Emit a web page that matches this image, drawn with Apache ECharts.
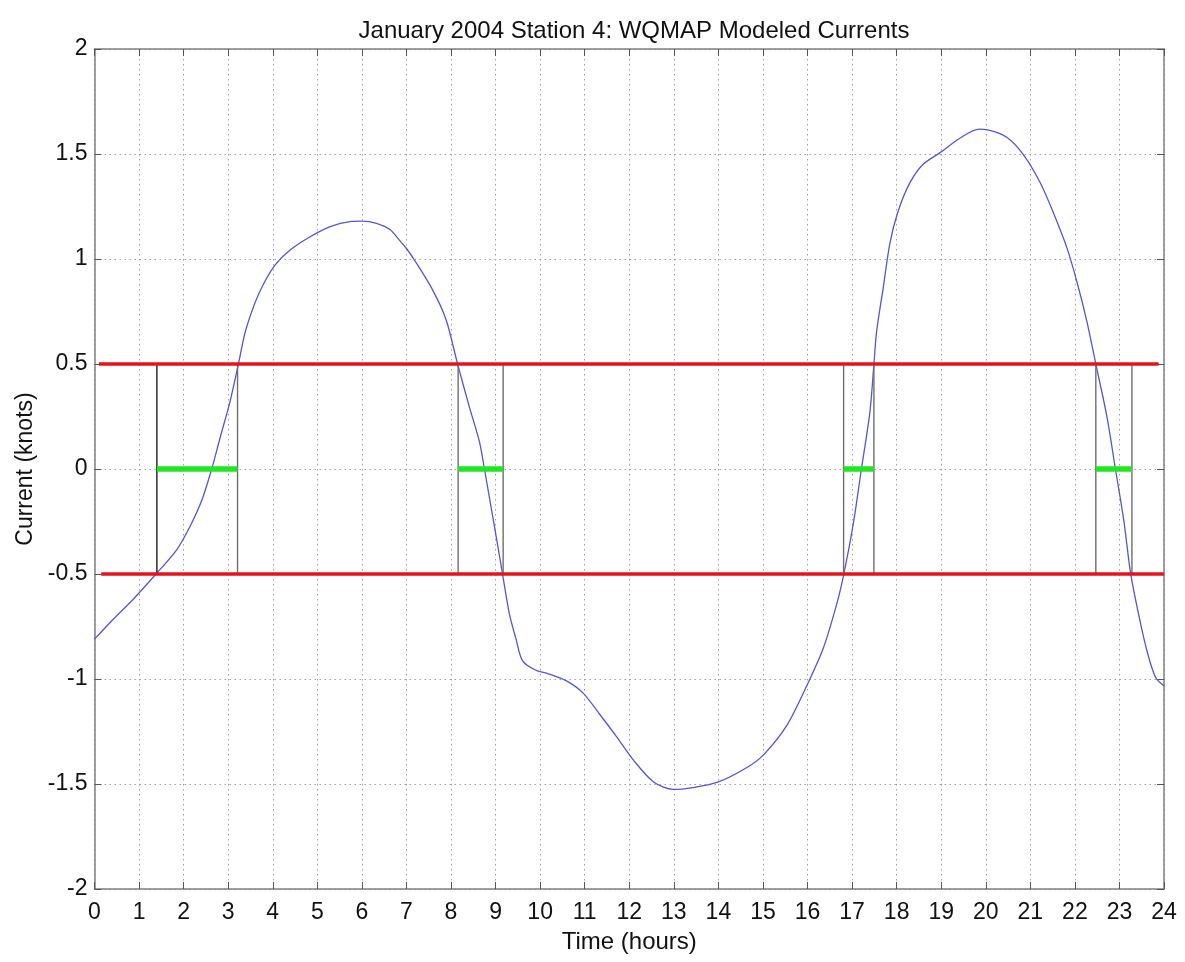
<!DOCTYPE html>
<html>
<head>
<meta charset="utf-8">
<title>January 2004 Station 4: WQMAP Modeled Currents</title>
<script src="https://cdn.jsdelivr.net/npm/echarts@6/dist/echarts.min.js"></script>
<style>
  html, body { margin: 0; padding: 0; background: #fff; }
  #chart { width: 1185px; height: 962px; }
</style>
</head>
<body>
<div id="chart"></div>
<script>
// Modeled current speed over the day (hours, knots)
const hours = [0, 0.4, 0.87, 1.36, 1.84, 2.14, 2.41, 2.63, 2.82, 3.04, 3.23, 3.38, 3.6, 3.79, 4.05, 4.39, 4.84,
  5.29, 5.73, 6.0, 6.33, 6.63, 6.84, 7.0, 7.18, 7.59, 7.89, 8.15, 8.41, 8.64, 8.75, 8.97, 9.15, 9.31, 9.46, 9.61,
  9.91, 10.14, 10.59, 10.96, 11.34, 11.71, 12.09, 12.54, 12.99, 13.43, 14.0, 14.65, 15.02, 15.54, 16.01,
  16.36, 16.66, 16.82, 17.03, 17.21, 17.4, 17.49, 17.55, 17.7, 17.85, 18.03, 18.29, 18.59, 19.0, 19.41,
  19.86, 20.02, 20.47, 20.84, 21.22, 21.52, 21.82, 22.05, 22.27, 22.47, 22.72, 22.91, 23.1, 23.25, 23.44,
  23.62, 23.81, 24.0];
const currents = [-0.81, -0.72, -0.62, -0.505, -0.386, -0.275, -0.148, 0.0, 0.15, 0.32, 0.5, 0.65, 0.79,
  0.88, 0.971, 1.043, 1.106, 1.154, 1.178, 1.18, 1.17, 1.14, 1.09, 1.05, 0.995, 0.852, 0.711, 0.498, 0.297,
  0.128, 0.0, -0.267, -0.492, -0.69, -0.81, -0.915, -0.959, -0.972, -1.009, -1.066, -1.169, -1.273, -1.385,
  -1.489, -1.526, -1.517, -1.49, -1.42, -1.36, -1.22, -1.02, -0.85, -0.64, -0.496, -0.258, 0.0, 0.271, 0.498,
  0.653, 0.864, 1.076, 1.225, 1.36, 1.45, 1.51, 1.574, 1.618, 1.616, 1.58, 1.498, 1.364, 1.219, 1.054,
  0.888, 0.702, 0.5, 0.248, 0.0, -0.248, -0.496, -0.702, -0.868, -0.992, -1.033];

// Slack-water threshold (knots) and the windows when |current| < threshold
const threshold = 0.5;
const windowStarts = [1.40, 8.16, 16.81, 22.47];
const windowEnds = [3.21, 9.17, 17.49, 23.28];
const windowEdgeColors = [['#1a1a1a', '#6e6e6e'], ['#6e6e6e', '#6e6e6e'], ['#6e6e6e', '#6e6e6e'], ['#6e6e6e', '#6e6e6e']];

// Threshold line extents (hours)
const upperLineSpan = [0.1, 23.88];
const lowerLineSpan = [0.15, 24];

const FONT = 'Liberation Sans, Arial, sans-serif';
const chart = echarts.init(document.getElementById('chart'), null, { renderer: 'canvas' });

const series = [];

series.push({
  name: 'current',
  type: 'line',
  data: hours.map((h, i) => [h, currents[i]]),
  showSymbol: false,
  smooth: 0.3,
  lineStyle: { color: '#5656cf', width: 1.3 },
  z: 3
});

windowStarts.forEach((s, i) => {
  [s, windowEnds[i]].forEach((x, j) => {
    series.push({
      type: 'line',
      data: [[x, -threshold], [x, threshold]],
      showSymbol: false,
      lineStyle: { color: windowEdgeColors[i][j], width: 1.4 },
      z: 4
    });
  });
});

series.push({
  type: 'line',
  data: [[upperLineSpan[0], threshold], [upperLineSpan[1], threshold]],
  showSymbol: false,
  lineStyle: { color: '#e4141c', width: 3.5 },
  z: 5
});
series.push({
  type: 'line',
  data: [[lowerLineSpan[0], -threshold], [lowerLineSpan[1], -threshold]],
  showSymbol: false,
  lineStyle: { color: '#e4141c', width: 3.5 },
  z: 5
});

windowStarts.forEach((s, i) => {
  series.push({
    type: 'line',
    data: [[s, 0], [windowEnds[i], 0]],
    showSymbol: false,
    lineStyle: { color: '#22e622', width: 5.5, cap: 'butt' },
    z: 6
  });
});

const gridDots = { show: true, lineStyle: { color: '#a0a0a0', width: 1, type: [1.5, 3.5] } };

chart.setOption({
  animation: false,
  backgroundColor: '#ffffff',
  title: {
    text: 'January 2004 Station 4: WQMAP Modeled Currents',
    left: 629,
    top: 14,
    textAlign: 'center',
    textStyle: { fontFamily: FONT, fontSize: 24, fontWeight: 'normal', color: '#111' }
  },
  grid: { left: 94.5, right: 21, top: 49, bottom: 73, containLabel: false },
  xAxis: [
    {
      type: 'value', min: 0, max: 24, interval: 1, position: 'bottom',
      name: 'Time (hours)', nameLocation: 'middle', nameGap: 41,
      nameTextStyle: { fontFamily: FONT, fontSize: 24, color: '#111' },
      axisLine: { onZero: false, lineStyle: { color: '#808080', width: 1.5 } },
      axisTick: { inside: true, length: 7, lineStyle: { color: '#555' } },
      axisLabel: { fontFamily: FONT, fontSize: 23, color: '#111', margin: 12 },
      splitLine: gridDots
    },
    {
      type: 'value', min: 0, max: 24, interval: 1, position: 'top',
      axisLine: { onZero: false, lineStyle: { color: '#808080', width: 1.5 } },
      axisTick: { inside: true, length: 7, lineStyle: { color: '#555' } },
      axisLabel: { show: false },
      splitLine: { show: false }
    }
  ],
  yAxis: [
    {
      type: 'value', min: -2, max: 2, interval: 0.5, position: 'left',
      name: 'Current (knots)', nameLocation: 'middle', nameGap: 57, nameRotate: 90,
      nameTextStyle: { fontFamily: FONT, fontSize: 23, color: '#111' },
      axisLine: { onZero: false, lineStyle: { color: '#808080', width: 1.5 } },
      axisTick: { inside: true, length: 7, lineStyle: { color: '#555' } },
      axisLabel: { fontFamily: FONT, fontSize: 23, color: '#111', margin: 7 },
      splitLine: gridDots
    },
    {
      type: 'value', min: -2, max: 2, interval: 0.5, position: 'right',
      axisLine: { onZero: false, lineStyle: { color: '#808080', width: 1.5 } },
      axisTick: { inside: true, length: 7, lineStyle: { color: '#555' } },
      axisLabel: { show: false },
      splitLine: { show: false }
    }
  ],
  series: series
});
</script>
</body>
</html>
